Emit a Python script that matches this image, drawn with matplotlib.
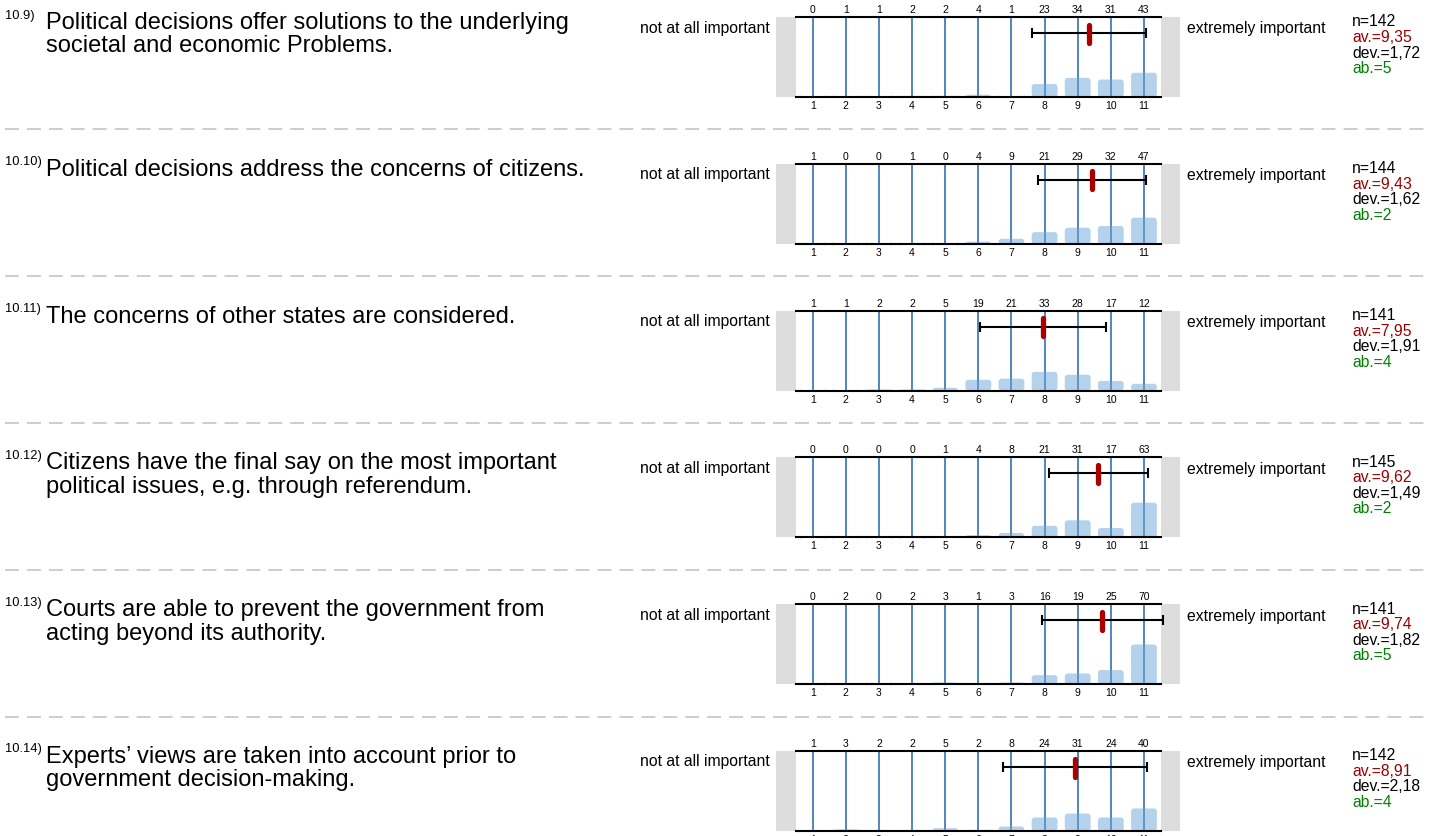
import matplotlib
matplotlib.use("Agg")
import matplotlib.pyplot as plt
import numpy as np
from matplotlib.lines import Line2D
from matplotlib.patches import FancyBboxPatch

plt.rcParams['font.family'] = ['Liberation Sans', 'DejaVu Sans']
plt.rcParams['lines.scale_dashes'] = False

# data
numbers = ["10.9)", "10.10)", "10.11)", "10.12)", "10.13)", "10.14)"]
questions = [
    ["Political decisions offer solutions to the underlying", "societal and economic Problems."],
    ["Political decisions address the concerns of citizens."],
    ["The concerns of other states are considered."],
    ["Citizens have the final say on the most important", "political issues, e.g. through referendum."],
    ["Courts are able to prevent the government from", "acting beyond its authority."],
    ["Experts\u2019 views are taken into account prior to", "government decision-making."],
]
scale = np.arange(1, 12)
counts = [
    [0, 1, 1, 2, 2, 4, 1, 23, 34, 31, 43],
    [1, 0, 0, 1, 0, 4, 9, 21, 29, 32, 47],
    [1, 1, 2, 2, 5, 19, 21, 33, 28, 17, 12],
    [0, 0, 0, 0, 1, 4, 8, 21, 31, 17, 63],
    [0, 2, 0, 2, 3, 1, 3, 16, 19, 25, 70],
    [1, 3, 2, 2, 5, 2, 8, 24, 31, 24, 40],
]
n_resp = [142, 144, 141, 145, 141, 142]
averages = [9.35, 9.43, 7.95, 9.62, 9.74, 8.91]
deviations = [1.72, 1.62, 1.91, 1.49, 1.82, 2.18]
abstentions = [5, 2, 4, 2, 5, 4]
left_label = "not at all important"
right_label = "extremely important"

# figure in pixel units
W, H = 1437, 837
fig = plt.figure(figsize=(W / 100, H / 100), dpi=100)

def fx(px):
    return px / W

def fy(py):
    return 1 - py / H

row_step = 146.8
box_h = 80
ax_left = 776.3
ax_right = 1180.4
px_per_unit = (ax_right - ax_left) / 12.2
side_fs = 11.3

for i in range(len(counts)):
    top = 18 + row_step * i
    n = n_resp[i]

    # separator
    if i > 0:
        fig.add_artist(Line2D([fx(5), fx(1430)], [fy(top - 34.5)] * 2, color='#c0c0c0',
                              lw=1.1, linestyle=(0, (10, 5.8))))

    # question text
    fig.text(fx(5), fy(top + 0.5), numbers[i], fontsize=9.3, va='baseline', ha='left')
    for k, line in enumerate(questions[i]):
        fig.text(fx(46), fy(top + 11 + 23.5 * k), line, fontsize=17, va='baseline', ha='left')

    fig.text(fx(770), fy(top + 10), left_label, fontsize=side_fs, va='center', ha='right')
    fig.text(fx(1187), fy(top + 11), right_label, fontsize=side_fs, va='center', ha='left')

    # stats
    fig.text(fx(1352), fy(top + 4), "n=%d" % n, fontsize=side_fs, va='center')
    fig.text(fx(1352), fy(top + 19.5), "av.=" + ("%.2f" % averages[i]).replace('.', ','),
             fontsize=side_fs, va='center', color='#990000')
    fig.text(fx(1352), fy(top + 35), "dev.=" + ("%.2f" % deviations[i]).replace('.', ','),
             fontsize=side_fs, va='center')
    fig.text(fx(1352), fy(top + 50.5), "ab.=%d" % abstentions[i], fontsize=side_fs,
             va='center', color='#008000')

    # histogram panel
    ax = fig.add_axes([fx(ax_left), fy(top + box_h), fx(ax_right - ax_left), box_h / H])
    ax.set_xlim(-0.1, 12.1)
    ax.set_ylim(0, n)
    ax.axis('off')

    ax.axvspan(-0.1, 0.5, color='#dddddd', lw=0)
    ax.axvspan(11.5, 12.1, color='#dddddd', lw=0)

    ax.vlines(scale, 0, n, color='#2166ac', lw=1.1, zorder=1)

    # bars with rounded corners (rounding ~3 px)
    bars = ax.bar(scale, counts[i], width=0.78)
    aspect = (n / box_h) * px_per_unit
    for r in bars:
        fb = FancyBboxPatch(r.get_xy(), r.get_width(), r.get_height(),
                            boxstyle="round,pad=0,rounding_size=%f" % (3 / px_per_unit),
                            mutation_aspect=aspect, facecolor='#6aa6d8', alpha=0.5,
                            edgecolor='none', zorder=2, clip_on=False)
        ax.add_patch(fb)
        r.remove()

    ax.plot([0.5, 11.5], [n, n], color='black', lw=1.5, clip_on=False, zorder=3)
    ax.plot([0.5, 11.5], [0, 0], color='black', lw=1.5, clip_on=False, zorder=3)

    for c, v in zip(scale, counts[i]):
        ax.text(c, n * 1.1, str(v), fontsize=7.5, ha='center', va='center', clip_on=False)
        ax.text(c, -n * 0.1, str(c), fontsize=7.5, ha='center', va='center', clip_on=False)

    # mean and deviation
    ax.errorbar(averages[i], n * 0.8, xerr=deviations[i], color='black', elinewidth=1.5,
                capsize=3.3, capthick=1.5, clip_on=False, zorder=4)
    ax.plot([averages[i], averages[i]], [n * 0.68, n * 0.905], color='#aa0000', lw=3.8,
            solid_capstyle='round', clip_on=False, zorder=5)

fig.savefig("out.png", dpi=100)
